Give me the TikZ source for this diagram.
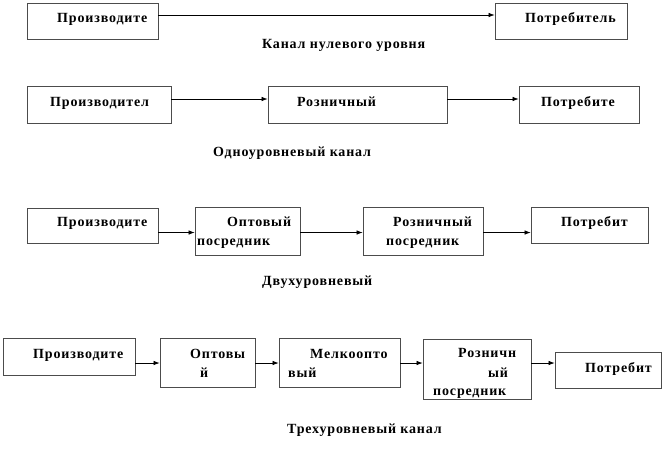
\documentclass[tikz,border=0pt]{standalone}
\usepackage{fontspec}
\setmainfont{Liberation Serif}
\newfontfamily\chfont[LetterSpace=6]{Liberation Serif}
\usetikzlibrary{arrows.meta,fit}
\tikzset{
    chbox/.style={draw=black!70, line width=0.8pt, inner sep=0pt},
    lbl/.style={font=\chfont\bfseries\fontsize{14}{19}\selectfont, inner sep=0pt, anchor=base west},
    caption/.style={font=\chfont\bfseries\fontsize{14}{19}\selectfont, inner sep=0pt, anchor=base west},
    flow/.style={-{Latex[length=6pt,width=4.5pt]}, line width=0.7pt}
}
\begin{document}
\begin{tikzpicture}[x=1pt, y=-1pt]
  \useasboundingbox (0,0) rectangle (666,450);

  % Row 1: zero-level channel
  \node[chbox, fit={(27,3) (158,39)}] (prod0) {};
  \node[chbox, fit={(495,3) (627,39)}] (cons0) {};
  \node[lbl] (tprod0) at (57,22) {Производите};
  \node[lbl] (tcons0) at (525,22) {Потребитель};
  \coordinate (row0) at (0,15);
  \draw[flow] (prod0.east |- row0) -- (cons0.west |- row0);
  \node[caption] (cap0) at (262,48) {Канал нулевого уровня};

  % Row 2: one-level channel
  \node[chbox, fit={(27,86) (171,123)}] (prod1) {};
  \node[chbox, fit={(268,86) (447,123)}] (ret1) {};
  \node[chbox, fit={(519,86) (639,123)}] (cons1) {};
  \node[lbl] (tprod1) at (50,106) {Производител};
  \node[lbl] (tret1) at (297,106) {Розничный};
  \node[lbl] (tcons1) at (541,106) {Потребите};
  \coordinate (row1) at (0,99);
  \draw[flow] (prod1.east |- row1) -- (ret1.west |- row1);
  \draw[flow] (ret1.east |- row1) -- (cons1.west |- row1);
  \node[caption] (cap1) at (213,156) {Одноуровневый канал};

  % Row 3: two-level channel
  \node[chbox, fit={(27,208) (158,243)}] (prod2) {};
  \node[chbox, fit={(195,207) (300,255)}] (whl2) {};
  \node[chbox, fit={(363,207) (483,255)}] (ret2) {};
  \node[chbox, fit={(531,207) (648,243)}] (cons2) {};
  \node[lbl] (tprod2) at (57,226) {Производите};
  \node[lbl] (twhl2a) at (227,226) {Оптовый};
  \node[lbl] (twhl2b) at (197,245) {посредник};
  \node[lbl] (tret2a) at (393,226) {Розничный};
  \node[lbl] (tret2b) at (386,245) {посредник};
  \node[lbl] (tcons2) at (561,226) {Потребит};
  \coordinate (row2) at (0,232.5);
  \draw[flow] (prod2.east |- row2) -- (whl2.west |- row2);
  \draw[flow] (whl2.east |- row2) -- (ret2.west |- row2);
  \draw[flow] (ret2.east |- row2) -- (cons2.west |- row2);
  \node[caption] (cap2) at (262,285) {Двухуровневый};

  % Row 4: three-level channel
  \node[chbox, fit={(3,338) (135,375)}] (prod3) {};
  \node[chbox, fit={(160,338) (255,387)}] (whl3) {};
  \node[chbox, fit={(279,338) (400,387)}] (sml3) {};
  \node[chbox, fit={(423,339) (531,399)}] (ret3) {};
  \node[chbox, fit={(555,352) (661,388)}] (cons3) {};
  \node[lbl] (tprod3) at (33,358) {Производите};
  \node[lbl] (twhl3a) at (190,358) {Оптовы};
  \node[lbl] (twhl3b) at (200,377) {й};
  \node[lbl] (tsml3a) at (310,358) {Мелкоопто};
  \node[lbl] (tsml3b) at (288,377) {вый};
  \node[lbl] (tret3a) at (458,357) {Розничн};
  \node[lbl] (tret3b) at (488,377) {ый};
  \node[lbl] (tret3c) at (433,395) {посредник};
  \node[lbl] (tcons3) at (585,372) {Потребит};
  \coordinate (row3) at (0,363);
  \draw[flow] (prod3.east |- row3) -- (whl3.west |- row3);
  \draw[flow] (whl3.east |- row3) -- (sml3.west |- row3);
  \draw[flow] (sml3.east |- row3) -- (ret3.west |- row3);
  \draw[flow] (ret3.east |- row3) -- (cons3.west |- row3);
  \node[caption] (cap3) at (287,433) {Трехуровневый канал};

\end{tikzpicture}
\end{document}
